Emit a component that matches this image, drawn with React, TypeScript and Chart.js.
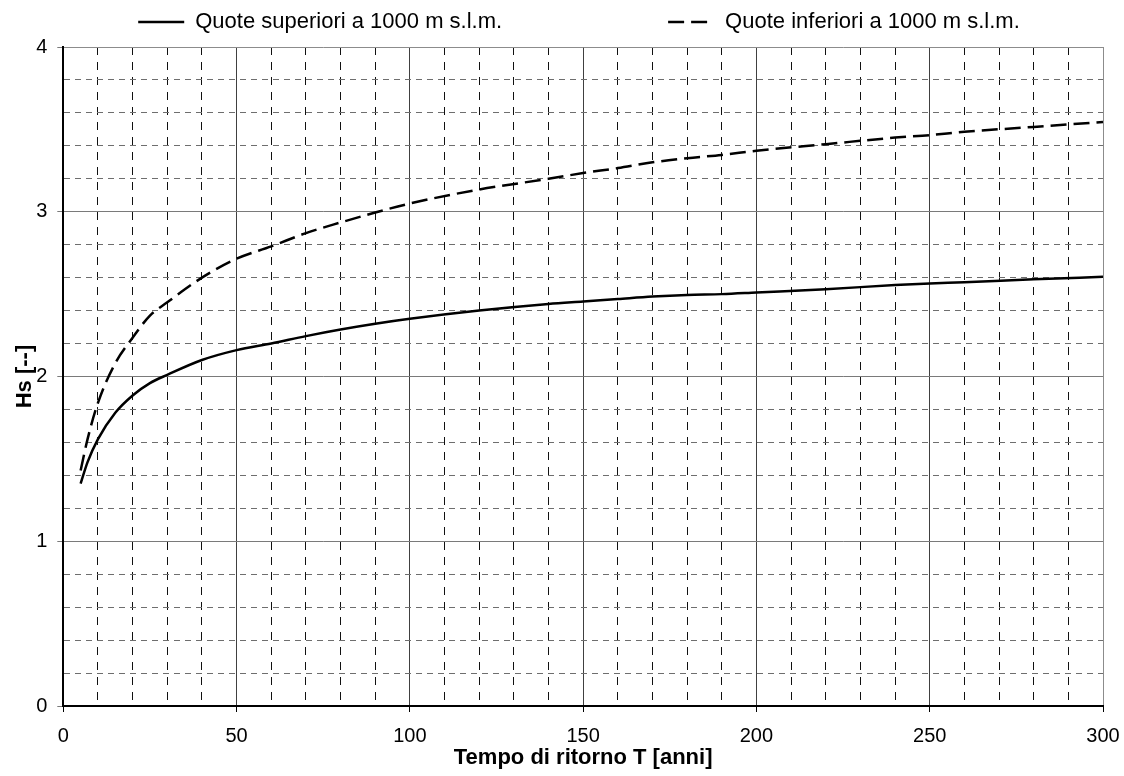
import React, { useEffect, useRef } from 'react';
import { Chart, registerables } from 'chart.js';

Chart.register(...registerables);

// ---- Data ----
const RETURN_PERIODS = [5, 7, 10, 15, 20, 25, 30, 40, 50, 60, 70, 80, 90, 100, 120, 140, 150, 160, 170, 180, 190, 200, 220, 240, 250, 260, 280, 300];
const HS_ABOVE_1000 = [1.35, 1.48, 1.62, 1.78, 1.885, 1.96, 2.01, 2.1, 2.16, 2.2, 2.245, 2.285, 2.32, 2.35, 2.4, 2.44, 2.455, 2.47, 2.485, 2.495, 2.5, 2.51, 2.53, 2.555, 2.565, 2.572, 2.59, 2.605];
const HS_BELOW_1000 = [1.43, 1.62, 1.84, 2.08, 2.235, 2.37, 2.45, 2.6, 2.715, 2.79, 2.87, 2.935, 2.995, 3.05, 3.135, 3.2, 3.235, 3.265, 3.3, 3.325, 3.345, 3.37, 3.41, 3.45, 3.465, 3.485, 3.515, 3.545];
const SERIES_LABELS = ['Quote superiori a 1000 m s.l.m.', 'Quote inferiori a 1000 m s.l.m.'];
const X_TICK_LABELS = [0, 50, 100, 150, 200, 250, 300];
const Y_TICK_LABELS = [0, 1, 2, 3, 4];
const X_TITLE = 'Tempo di ritorno T [anni]';
const Y_TITLE = 'Hs [--]';

const FONT = "'Liberation Sans', Arial, Helvetica, sans-serif";

export default function App() {
  const canvasRef = useRef<HTMLCanvasElement | null>(null);

  useEffect(() => {
    document.body.style.margin = '0';
    const canvas = canvasRef.current;
    if (!canvas) return;

    const isMajorX = (v: number) => X_TICK_LABELS.some((t) => Math.abs(t - v) < 1e-6);
    const isMajorY = (v: number) => Y_TICK_LABELS.some((t) => Math.abs(t - v) < 1e-6);
    const xMax = X_TICK_LABELS[X_TICK_LABELS.length - 1];
    const yMax = Y_TICK_LABELS[Y_TICK_LABELS.length - 1];

    const chart = new Chart(canvas, {
      type: 'line',
      data: {
        datasets: [
          {
            label: SERIES_LABELS[0],
            data: RETURN_PERIODS.map((t, i) => ({ x: t, y: HS_ABOVE_1000[i] })),
            borderColor: '#000',
            backgroundColor: '#000',
            borderWidth: 2.5,
            pointRadius: 0,
            cubicInterpolationMode: 'monotone',
            fill: false,
          },
          {
            label: SERIES_LABELS[1],
            data: RETURN_PERIODS.map((t, i) => ({ x: t, y: HS_BELOW_1000[i] })),
            borderColor: '#000',
            backgroundColor: '#000',
            borderWidth: 2.5,
            borderDash: [16, 7],
            pointRadius: 0,
            cubicInterpolationMode: 'monotone',
            fill: false,
          },
        ],
      },
      options: {
        responsive: false,
        animation: false,
        devicePixelRatio: 1,
        layout: { padding: { left: -33, right: -67, top: -155, bottom: 0 } },
        plugins: {
          tooltip: { enabled: false },
          legend: {
            position: 'top',
            align: 'center',
            labels: {
              usePointStyle: true,
              pointStyle: 'line',
              pointStyleWidth: 46,
              padding: 166,
              color: '#000',
              font: { family: FONT, size: 22 },
              generateLabels: (ch: any) => {
                const items = Chart.defaults.plugins.legend.labels.generateLabels(ch);
                return items.map((it: any, i: number) => ({
                  ...it,
                  pointStyle: 'line',
                  lineDash: (ch.data.datasets[i] as any).borderDash || [],
                  lineWidth: 2.5,
                  strokeStyle: '#000',
                  fillStyle: '#000',
                }));
              },
            },
          },
        },
        scales: {
          x: {
            type: 'linear',
            position: 'bottom',
            min: 0,
            max: xMax,
            afterFit: (s: any) => {
              s.height = 70;
              s.paddingRight = 21;
            },
            ticks: {
              stepSize: 10,
              autoSkip: false,
              maxRotation: 0,
              padding: 12,
              color: '#000',
              font: { family: FONT, size: 20 },
              callback: (v: any) => (isMajorX(Number(v)) ? String(v) : ''),
            },
            grid: {
              drawTicks: true,
              tickLength: 6,
              lineWidth: 1,
              color: (c: any) => {
                const v = c.tick ? c.tick.value : 0;
                if (Math.abs(v - xMax) < 1e-6) return '#8c8c8c';
                return isMajorX(v) ? '#404040' : '#111111';
              },
              tickColor: (c: any) => (c.tick && isMajorX(c.tick.value) ? '#000' : 'rgba(0,0,0,0)'),
            },
            border: {
              display: true,
              color: '#000',
              width: 2,
              dash: (c: any) => (c.tick && !isMajorX(c.tick.value) ? [8, 7] : []),
            },
            title: {
              display: true,
              text: X_TITLE,
              color: '#000',
              font: { family: FONT, size: 22, weight: 'bold' },
              padding: { top: 0, bottom: 5 },
            },
          },
          xTop: {
            // empty spacer box between the legend and the plot area
            type: 'linear',
            position: 'top',
            min: 0,
            max: xMax,
            afterFit: (s: any) => {
              s.height = 4;
            },
            grid: { display: false, drawTicks: false },
            border: { display: false },
            ticks: { display: false },
          },
          y: {
            type: 'linear',
            position: 'left',
            min: 0,
            max: yMax,
            afterFit: (s: any) => {
              s.width = 96.3;
            },
            ticks: {
              stepSize: 0.2,
              autoSkip: false,
              padding: 10,
              color: '#000',
              font: { family: FONT, size: 20 },
              callback: (v: any) => (isMajorY(Number(v)) ? String(Math.round(Number(v))) : ''),
            },
            grid: {
              drawTicks: true,
              tickLength: 6,
              lineWidth: 1,
              color: (c: any) => {
                const v = c.tick ? c.tick.value : 0;
                if (Math.abs(v - yMax) < 1e-6) return '#8c8c8c';
                return isMajorY(v) ? '#7a7a7a' : '#6e6e6e';
              },
              tickColor: (c: any) => (c.tick && isMajorY(c.tick.value) ? '#7a7a7a' : 'rgba(0,0,0,0)'),
            },
            border: {
              display: true,
              color: '#000',
              width: 2,
              dash: (c: any) => (c.tick && !isMajorY(c.tick.value) ? [6, 5] : []),
            },
            title: {
              display: true,
              text: Y_TITLE,
              color: '#000',
              font: { family: FONT, size: 22, weight: 'bold' },
              padding: { top: 44.8, bottom: 0 },
            },
          },
        },
      } as any,
    });

    return () => {
      chart.destroy();
    };
  }, []);

  return (
    <div style={{ width: 1124, height: 776 }}>
      <canvas ref={canvasRef} width={1124} height={776} style={{ display: 'block' }} />
    </div>
  );
}
